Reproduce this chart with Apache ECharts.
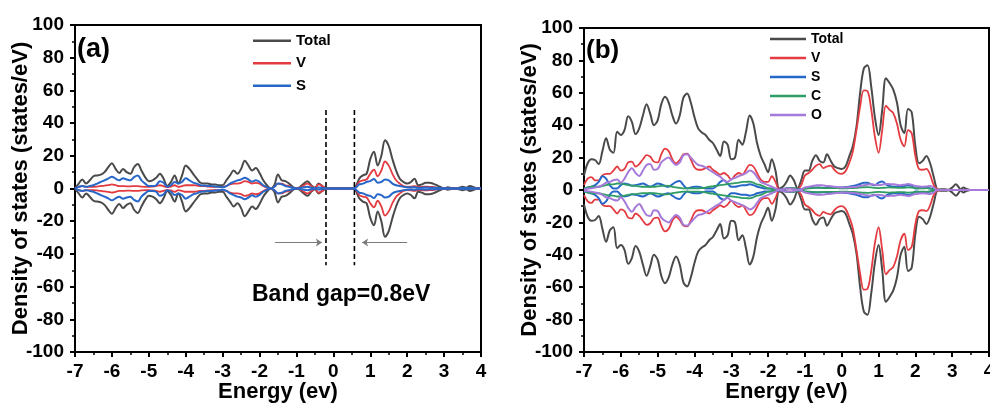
<!DOCTYPE html>
<html><head><meta charset="utf-8">
<script src="https://cdn.jsdelivr.net/npm/echarts@6/dist/echarts.min.js"></script>
<style>html,body{margin:0;padding:0;background:#fff}#c{width:990px;height:405px}</style>
</head><body><div id="c"></div>
<script>
// Energy grid (eV)
const energy = [
 -7,-6.9,-6.8,-6.7,-6.6,-6.5,-6.4,-6.3,-6.2,-6.1,
 -6,-5.9,-5.8,-5.7,-5.6,-5.5,-5.4,-5.3,-5.2,-5.1,
 -5,-4.9,-4.8,-4.7,-4.6,-4.5,-4.4,-4.3,-4.2,-4.1,
 -4,-3.9,-3.8,-3.7,-3.6,-3.5,-3.4,-3.3,-3.2,-3.1,
 -3,-2.9,-2.8,-2.7,-2.6,-2.5,-2.4,-2.3,-2.2,-2.1,
 -2,-1.9,-1.8,-1.7,-1.6,-1.5,-1.4,-1.3,-1.2,-1.1,
 -1,-0.9,-0.8,-0.7,-0.6,-0.5,-0.4,-0.3,-0.2,-0.1,
 0,0.1,0.2,0.3,0.4,0.5,0.6,0.7,0.8,0.9,
 1,1.1,1.2,1.3,1.4,1.5,1.6,1.7,1.8,1.9,
 2,2.1,2.2,2.3,2.4,2.5,2.6,2.7,2.8,2.9,
 3,3.1,3.2,3.3,3.4,3.5,3.6,3.7,3.8,3.9,
 4];

// Panel (a): spin-up DOS (spin-down is the mirror image)
const totalA = [
 0,3,5.5,3,5,7.5,8,8.5,10,13,
 15.5,12,9.5,12,10,9,13,15,11,7,
 4.5,5,6.5,9,6,1.5,4,8,3,8,
 14,12,9,6,3.5,3,3,2.5,2.5,2,
 2,5,8,11,9,12,17,14,11,12.5,
 9.5,5,2,0,2,8.5,5,4.5,3,1,
 0,1,3,4.5,2,0.5,3,1.5,0,0,
 0,0,0,0,0,0,1,6,8,9,
 18,22.5,14,20,29.5,26,18,11,6,4,
 3,4,6,2,2.5,3.5,3.5,3,2,1,
 0,0.7,0.3,0,0.5,1,0.5,1.5,0.8,0,
 0];
const vA = [
 0,1,1.5,1,1,1,1.2,1.5,1.8,2,
 2.5,2,1.5,1.5,1.3,1.3,1.5,1.5,1.2,1,
 1,1.2,1.5,2,1.5,0.8,1.2,2,1,1.5,
 2,2,2,1.8,1.5,1.5,1.2,1,1,1,
 1,1.5,2.5,3,3,3.5,4.5,4,3,3.5,
 3,1.5,0.5,0,1,3,3,2,1.5,0.5,
 0,0.5,2,3,1.5,0.3,2.5,1.5,0,0,
 0,0,0,0,0,0,0.5,4,5,5.5,
 9,11.5,7.5,11,16.5,14,9,5,3,1.5,
 1,1.2,1.5,1,1,1.2,1,1,0.5,0.2,
 0,0,0,0,0,0,0,0,0,0,
 0];
const sA = [
 0,1,1.5,1,1.5,2,3,4,5,6,
 7.2,6,5,6.2,5.5,5,7,8,5,3,
 1.5,1.5,2,4.5,3.5,1,2,4,3,4,
 6.2,5,3.6,3,2,1.8,1.5,1.5,1.2,1,
 0.8,1.5,3,4,5,5.5,6.5,5.5,4.2,5,
 4,2,0.8,0,1,3,2.5,1.5,1,0.5,
 0,0.3,0.8,1,0.5,0.2,0.6,0.3,0,0,
 0,0,0,0,0,0,0.5,2.5,3,4,
 4.5,5.8,3.5,4,5.5,5,3,2,1.5,1,
 0.7,0.6,0.8,0.5,0.5,0.6,0.5,0.5,0.3,0.2,
 0.1,0.2,0.1,0,0.2,0.3,0.2,0.3,0.2,0,
 0];

// Panel (b)
const totalB = [
 9,16.5,19,18.5,16,24,32,25,23,36,
 34,37,45.5,42,34.5,38,46,53,47,40,
 43,53,57.5,54,46,41,46,57,59.5,54,
 45,38,35.5,34,31,29,25,21,30,28,
 19,20,31,28,36,46,41,29,21,16,
 11,19,12,1,2,5,9,6,1,6,
 12,12,18,21.5,18,17,22,18,14.5,13.5,
 13,14.5,20.5,27,39,60,75,77,64,45,
 34,49.5,69,66,62,54,40,35,50,48,
 27,16.5,18,21,16.5,8,0,-0.5,-0.5,0,
 1.5,3.5,1,-1.5,-0.5,0,0,0,0,0,
 0];
const vB = [
 3,7,8,6,6,9,10,10,12,14.5,
 12,13,17,17.5,14.5,16,19,21.5,20.5,17.5,
 17,22,25.5,24,19,16.5,18.5,22,22.5,19,
 14,12.5,12.5,13.5,14.5,12.5,11,9.5,10.5,9,
 6.5,9,10.5,9.5,12.5,15.5,14.5,10.5,6.5,5,
 5,8.5,5,0.5,0.5,1,1,1,0.5,3,
 9,10.5,12.5,15,16,13.5,14.5,15,12.5,10.5,
 10,11.5,16.5,23.5,37,51.5,61.5,61,50,33,
 23,37,52,49.5,47.5,41,31,27,37,35,
 21,13,12.5,13,9.5,3,0.4,0,0,0,
 0,0,0,0,0,0,0,0,0,0,
 0];
const sB = [
 1,1.5,2,3,5,8.5,7,3,1,1,
 3,4,3.5,2.7,3,3.5,4,3,2,3,
 4,3.5,2.5,2,3.5,5,5.5,3,1,1.5,
 2,2,1.5,1,1,1,2.5,5,6,4,
 2,2,2.5,3,3,3.5,3,2,1.5,1,
 1,0.8,0.5,0.3,0.5,1,1.2,1,0.5,0.5,
 1,1.2,1.5,1.5,1.5,1.2,1.2,1.3,1.5,1.5,
 1.5,1.8,2,2.5,3,3.7,4.5,4.5,3.5,3,
 4.5,5.2,3.5,2.5,2,2,2,2.5,3,2.5,
 1,1.2,1.5,1.4,1,0.5,0,0,0,0,
 0,0,0,0,0,0,0,0,0,0,
 0];
const cB = [
 1,1.5,2,2,2,2.5,3,3.5,3.5,4,
 4,3.5,3,2.7,2.5,2.2,2,2,2,2,
 2.3,2.5,2.7,2.5,2,1.6,1.3,1,1,1,
 1,1,1.2,1.5,2,2.3,2.7,3,3.3,3.7,
 4,4.2,4.5,5,5,5.2,4.5,3.5,3,2,
 1,0.7,0.3,0,0.5,1,1.2,1,0.3,0.3,
 0.8,1,1.2,1.3,1.3,1.2,1.2,1.2,1.2,1.1,
 1,1,1.1,1.2,1.3,1.5,1.7,1.8,1.6,1.3,
 1.2,1.3,1.5,1.6,1.5,1.4,1.3,1.4,1.6,1.5,
 1.2,1,1,1.1,0.9,0.5,0,0,0,0,
 0,0,0,0,0,0,0,0,0,0,
 0];
const oB = [
 0.5,0.8,1,1.5,2,3,4.5,5,6,6.5,
 4.5,7,11,13.5,10.5,8.7,12,15.5,16,12.5,
 13,17,19,20,17.5,15.5,17,21.5,22,20,
 17.5,15.5,15,14,12.5,11,9.5,8.2,6,5,
 6.6,7.5,8.5,9.3,10.5,12,11,8,5,4,
 3,2,1,0,0.5,1,1,0.5,0,0.5,
 1.6,2,2.5,2.8,3,2.8,2.5,2.3,2,1.8,
 1.6,1.6,1.7,1.8,2,2.5,3,3.3,3.5,3.2,
 3,3.3,3.7,3.6,3.5,3.2,3,3.3,3.7,3.2,
 2.5,2.2,2,2.2,2.5,1.5,0,0,0,0,
 0,0,0,0,0,0,0,0,0,0,
 0];

// Band-gap annotation values (eV / states)
const gapEdges = [-0.2, 0.57];
const gapSpan = [48, -47];
const arrowLeft = [-1.58, -0.31];
const arrowRight = [2.0, 0.78];
const arrowLevel = -33;

const FONT = '"Liberation Sans", Arial, Helvetica, sans-serif';
const COLORS = {Total:'#4a4a4a', V:'#e33b40', S:'#2767c9', C:'#2f9d63', O:'#a57ad9'};
const WIDTH = {Total:2, V:1.8, S:2, C:1.8, O:2};

function pts(vals, sign) { return energy.map((e, i) => [e, sign * vals[i]]); }
function curve(name, vals, gi, z) {
  const base = {
    name, type:'line', xAxisIndex:gi, yAxisIndex:gi, symbol:'none', showSymbol:false,
    smooth:0.35, z, lineStyle:{color:COLORS[name], width:WIDTH[name]}, itemStyle:{color:COLORS[name]},
    animation:false
  };
  return [Object.assign({}, base, {data:pts(vals, 1)}), Object.assign({}, base, {data:pts(vals, -1)})];
}
function xAx(gi, name) {
  return {
    gridIndex:gi, type:'value', min:-7, max:4, interval:1,
    name, nameLocation:'middle', nameGap:29, nameMoveOverlap:false,
    nameTextStyle:{fontFamily:FONT, fontWeight:'bold', fontSize:22, color:'#000'},
    axisLine:{show:true, onZero:false, lineStyle:{color:'#000', width:2}},
    axisTick:{show:true, length:5, lineStyle:{color:'#000', width:2}},
    minorTick:{show:true, splitNumber:2, length:3, lineStyle:{color:'#000', width:1.5}},
    splitLine:{show:false},
    axisLabel:{fontFamily:FONT, fontWeight:'bold', fontSize:19, color:'#000', margin:10}
  };
}
function yAx(gi, gap) {
  return {
    gridIndex:gi, type:'value', min:-100, max:100, interval:20,
    name:'Density of states (states/eV)', nameLocation:'middle', nameGap:gap, nameMoveOverlap:false,
    nameTextStyle:{fontFamily:FONT, fontWeight:'bold', fontSize:22, color:'#000'},
    axisLine:{show:true, onZero:false, lineStyle:{color:'#000', width:2}},
    axisTick:{show:true, length:5, lineStyle:{color:'#000', width:2}},
    minorTick:{show:true, splitNumber:2, length:3, lineStyle:{color:'#000', width:1.5}},
    splitLine:{show:false},
    axisLabel:{fontFamily:FONT, fontWeight:'bold', fontSize:19, color:'#000', margin:11}
  };
}

const series = [].concat(
  curve('Total', totalA, 0, 2), curve('V', vA, 0, 3), curve('S', sA, 0, 4),
  curve('Total', totalB, 1, 2), curve('V', vB, 1, 3), curve('S', sB, 1, 4),
  curve('C', cB, 1, 5), curve('O', oB, 1, 6)
);
// dashed band-edge markers
gapEdges.forEach(g => series.push({
  type:'line', xAxisIndex:0, yAxisIndex:0, symbol:'none', animation:false, z:7,
  data:[[g, gapSpan[0]], [g, gapSpan[1]]],
  lineStyle:{color:'#000', width:1.6, type:[5,3]}
}));
// arrows
series.push({
  type:'line', xAxisIndex:0, yAxisIndex:0, symbol:'none', data:[], animation:false, z:7,
  markLine:{
    silent:true, animation:false, symbol:['none','arrow'], symbolSize:[6,6],
    label:{show:false}, lineStyle:{color:'#7a7a7a', width:1, type:'solid'},
    data:[
      [{coord:[arrowLeft[0], arrowLevel]}, {coord:[arrowLeft[1], arrowLevel]}],
      [{coord:[arrowRight[0], arrowLevel]}, {coord:[arrowRight[1], arrowLevel]}]
    ]
  }
});

const lineIcon = 'rect';

const chart = echarts.init(document.getElementById('c'), null, {renderer:'canvas'});
chart.setOption({
  animation:false,
  backgroundColor:'#fff',
  grid:[
    {left:75, top:25, width:406, height:327, show:true, borderColor:'#000', borderWidth:2, outerBoundsMode:'none', containLabel:false},
    {left:584, top:28, width:405, height:324, show:true, borderColor:'#000', borderWidth:2, outerBoundsMode:'none', containLabel:false}
  ],
  xAxis:[xAx(0, 'Energy (ev)'), xAx(1, 'Energy (eV)')],
  yAxis:[yAx(0, 43), yAx(1, 43)],
  legend:[
    {orient:'vertical', left:248, top:28, padding:5, icon:lineIcon, itemWidth:38, itemHeight:2.5,
     itemGap:7, data:['Total','V','S'], selectedMode:false,
     textStyle:{fontFamily:FONT, fontWeight:'bold', fontSize:15, color:'#000', lineHeight:15.5}},
    {orient:'vertical', left:765, top:27, padding:5, icon:lineIcon, itemWidth:36, itemHeight:2.5,
     itemGap:5, data:['Total','V','S','C','O'], selectedMode:false,
     textStyle:{fontFamily:FONT, fontWeight:'bold', fontSize:14, color:'#000', lineHeight:14}}
  ],
  graphic:[
    {type:'text', left:77, top:36, style:{text:'(a)', font:'bold 27px ' + FONT, fill:'#000'}},
    {type:'text', left:586, top:38, style:{text:'(b)', font:'bold 26px ' + FONT, fill:'#000'}},
    {type:'text', left:252, top:283, style:{text:'Band gap=0.8eV', font:'bold 23px ' + FONT, fill:'#000'}}
  ],
  series
});
</script>
</body></html>
